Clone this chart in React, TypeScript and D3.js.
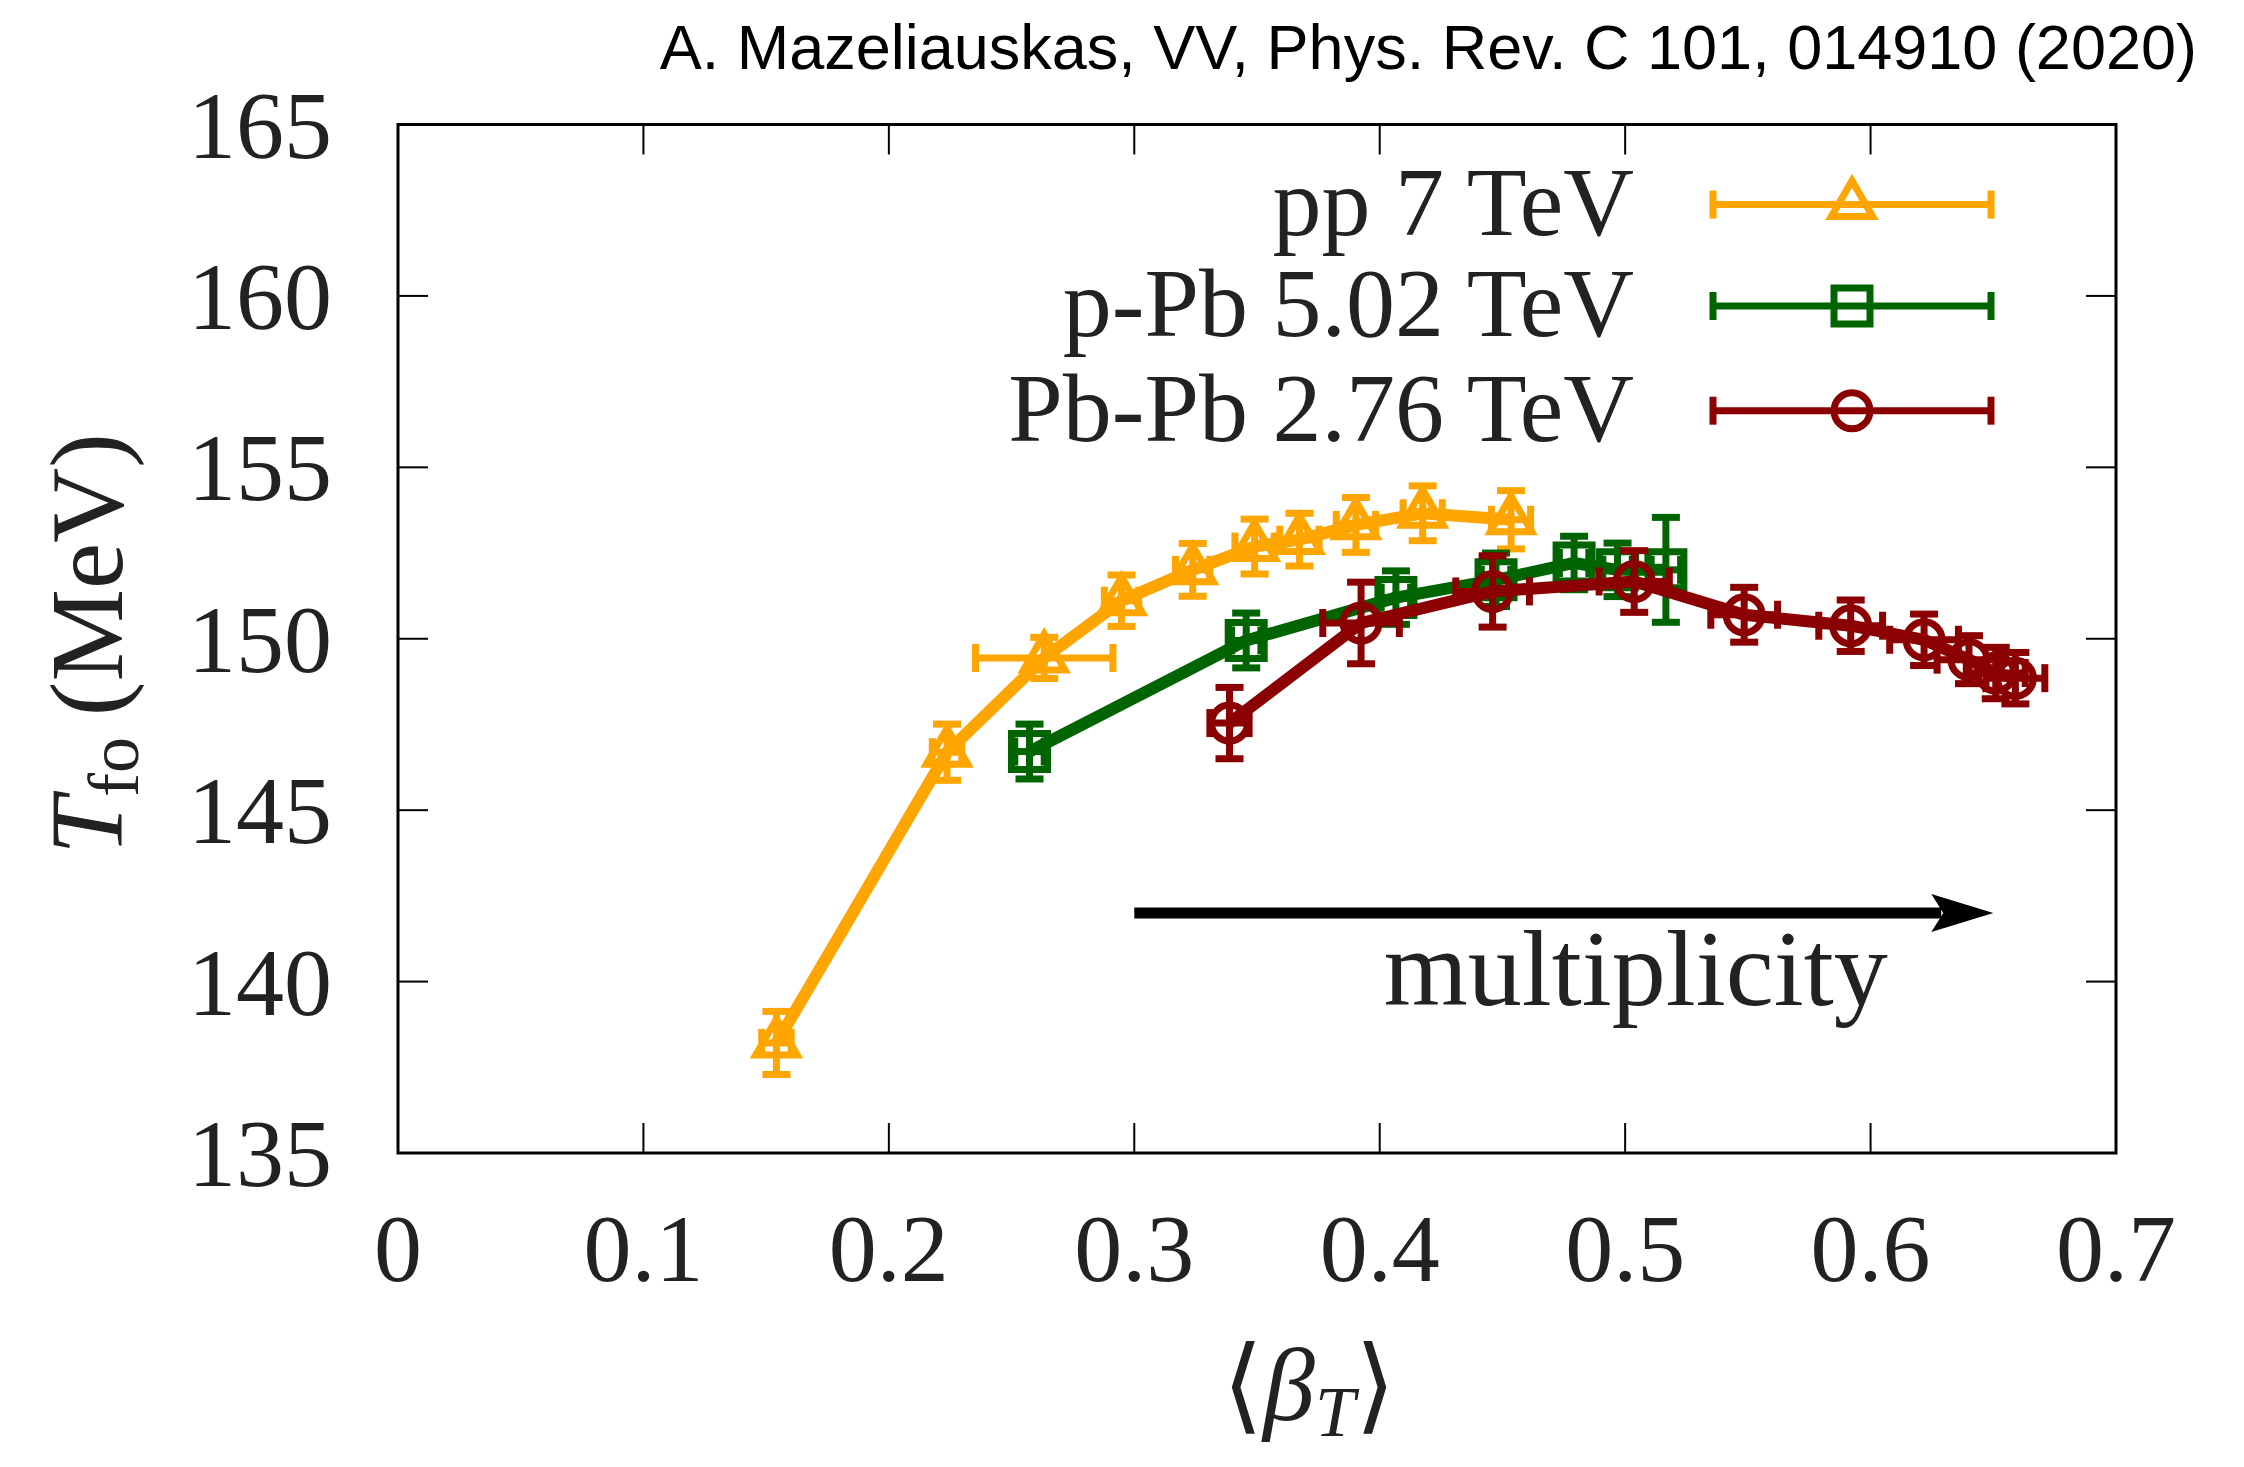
import React from "react";
import * as d3 from "d3";

// ---------- data ----------
const xTickValues = [0, 0.1, 0.2, 0.3, 0.4, 0.5, 0.6, 0.7];
const xTickLabels = ["0", "0.1", "0.2", "0.3", "0.4", "0.5", "0.6", "0.7"];
const yTickValues = [135, 140, 145, 150, 155, 160, 165];
const yTickLabels = ["135", "140", "145", "150", "155", "160", "165"];

const ppX = [0.1542, 0.2237, 0.2633, 0.2948, 0.3238, 0.349, 0.3673, 0.3903, 0.4175, 0.4535];
const ppY = [138.21, 146.69, 149.44, 151.11, 152.01, 152.69, 152.89, 153.32, 153.66, 153.47];
const ppXErr = [0.006, 0.006, 0.028, 0.007, 0.007, 0.008, 0.008, 0.008, 0.008, 0.008];
const ppYErr = [0.92, 0.82, 0.6, 0.75, 0.77, 0.8, 0.77, 0.8, 0.8, 0.85];

const pPbX = [0.2573, 0.3456, 0.4066, 0.4474, 0.4792, 0.4969, 0.5166];
const pPbY = [146.71, 149.95, 151.2, 151.72, 152.21, 152.01, 152.01];
const pPbXErr = [0.006, 0.006, 0.006, 0.006, 0.006, 0.006, 0.006];
const pPbYErr = [0.8, 0.8, 0.78, 0.78, 0.78, 0.78, 1.53];

const PbPbX = [0.3388, 0.3924, 0.446, 0.5037, 0.5485, 0.5919, 0.6218, 0.6401, 0.651, 0.659];
const PbPbY = [147.54, 150.46, 151.38, 151.67, 150.7, 150.38, 149.97, 149.39, 149.0, 148.85];
const PbPbXErr = [0.008, 0.0156, 0.015, 0.0143, 0.0136, 0.013, 0.014, 0.013, 0.012, 0.012];
const PbPbYErr = [1.04, 1.19, 1.04, 0.9, 0.8, 0.75, 0.75, 0.7, 0.75, 0.75];

const seriesNames = ["pp 7 TeV", "p-Pb 5.02 TeV", "Pb-Pb 2.76 TeV"];
const seriesColors = ["#FFA500", "#006400", "#8B0000"];
const seriesSymbols = ["triangle", "square", "circle"];

const arrowX = [0.3, 0.65];
const arrowY = 142;
const annotationText = "multiplicity";
const titleText = "A. Mazeliauskas, VV, Phys. Rev. C 101, 014910 (2020)";

// ---------- layout ----------
const W = 2244;
const H = 1467;
const PLOT_L = 398;
const PLOT_R = 2116;
const PLOT_T = 124.5;
const PLOT_B = 1153;

const SERIF = "'Liberation Serif', 'DejaVu Serif', serif";
const SANS = "'Liberation Sans', Arial, Helvetica, sans-serif";

function symbolPath(kind: string) {
  if (kind === "triangle") return d3.symbol().type(d3.symbolTriangle).size(740)()!;
  if (kind === "square") return d3.symbol().type(d3.symbolSquare).size(36 * 36)()!;
  return d3.symbol().type(d3.symbolCircle).size(Math.PI * 18 * 18)()!;
}

export default function App() {
  const x = d3.scaleLinear().domain([0, 0.7]).range([PLOT_L, PLOT_R]);
  const y = d3.scaleLinear().domain([135, 165]).range([PLOT_B, PLOT_T]);

  const series = [
    { xs: ppX, ys: ppY, xe: ppXErr, ye: ppYErr },
    { xs: pPbX, ys: pPbY, xe: pPbXErr, ye: pPbYErr },
    { xs: PbPbX, ys: PbPbY, xe: PbPbXErr, ye: PbPbYErr },
  ];

  const line = d3
    .line<[number, number]>()
    .x((d) => x(d[0]))
    .y((d) => y(d[1]));

  const CAP = 14;
  const tickLen = 30;

  const innerYTicks = yTickValues.filter((v) => v !== 135 && v !== 165);
  const innerXTicks = xTickValues.filter((v) => v !== 0 && v !== 0.7);

  const ax0 = x(arrowX[0]);
  const ax1 = x(arrowX[1]);
  const ay = y(arrowY);
  const headLen = 62;
  const headHalf = 19;

  const legendTextX = 1634;
  const legendLineX0 = 1713;
  const legendLineX1 = 1991;
  const legendRowsY = [204.6, 306, 410.7];

  return (
    <svg
      width={W}
      height={H}
      viewBox={`0 0 ${W} ${H}`}
      style={{ position: "absolute", left: 0, top: 0, background: "#fff" }}
    >
      <rect x={0} y={0} width={W} height={H} fill="#fff" />

      {/* title */}
      <text x={2197} y={69} textAnchor="end" fontFamily={SANS} fontSize={63} fill="#000">
        {titleText}
      </text>

      {/* ticks */}
      <g stroke="#000" strokeWidth={2}>
        {innerYTicks.map((v) => (
          <g key={"yt" + v}>
            <line x1={PLOT_L} x2={PLOT_L + tickLen} y1={y(v)} y2={y(v)} />
            <line x1={PLOT_R} x2={PLOT_R - tickLen} y1={y(v)} y2={y(v)} />
          </g>
        ))}
        {innerXTicks.map((v) => (
          <g key={"xt" + v}>
            <line x1={x(v)} x2={x(v)} y1={PLOT_B} y2={PLOT_B - tickLen} />
            <line x1={x(v)} x2={x(v)} y1={PLOT_T} y2={PLOT_T + tickLen} />
          </g>
        ))}
      </g>

      {/* tick labels */}
      <g fontFamily={SERIF} fontSize={96} fill="#222">
        {yTickValues.map((v, i) => (
          <text key={"yl" + v} x={332} y={y(v) + 33} textAnchor="end">
            {yTickLabels[i]}
          </text>
        ))}
        {xTickValues.map((v, i) => (
          <text key={"xl" + v} x={x(v)} y={1281} textAnchor="middle">
            {xTickLabels[i]}
          </text>
        ))}
      </g>

      {/* axis titles */}
      <text
        transform={`translate(122, 644) rotate(-90)`}
        textAnchor="middle"
        fontFamily={SERIF}
        fontSize={104}
        fill="#222"
      >
        <tspan fontStyle="italic">T</tspan>
        <tspan fontSize={72} dy={16}>fo</tspan>
        <tspan dy={-16}>{"\u2009(MeV)"}</tspan>
      </text>
      <text x={1309} y={1420} textAnchor="middle" fontFamily={SERIF} fontSize={104} fill="#222">
        <tspan fontFamily="'DejaVu Serif', 'DejaVu Sans', serif" fontWeight={200}>{"\u27E8"}</tspan>
        <tspan fontStyle="italic">{"\u03B2"}</tspan>
        <tspan fontStyle="italic" fontSize={72} dy={16}>T</tspan>
        <tspan dy={-16} fontFamily="'DejaVu Serif', 'DejaVu Sans', serif" fontWeight={200}>{"\u27E9"}</tspan>
      </text>

      {/* arrow + annotation */}
      <line x1={ax0} x2={ax1 - headLen + 10} y1={ay} y2={ay} stroke="#000" strokeWidth={11} />
      <path
        d={`M${ax1},${ay} L${ax1 - headLen},${ay - headHalf} L${ax1 - headLen + 12},${ay} L${ax1 - headLen},${ay + headHalf} Z`}
        fill="#000"
      />
      <text x={x(0.607)} y={y(139.32)} textAnchor="end" fontFamily={SERIF} fontSize={108} fill="#222">
        {annotationText}
      </text>

      {/* series */}
      {series.map((s, si) => {
        const pts: [number, number][] = s.xs.map((xv, i) => [xv, s.ys[i]]);
        const col = seriesColors[si];
        const sym = symbolPath(seriesSymbols[si]);
        return (
          <g key={"s" + si}>
            <path d={line(pts)!} fill="none" stroke={col} strokeWidth={12} strokeLinejoin="round" />
            <g stroke={col} strokeWidth={7}>
              {pts.map((p, i) => {
                const cx = x(p[0]);
                const cy = y(p[1]);
                const yl = y(p[1] - s.ye[i]);
                const yh = y(p[1] + s.ye[i]);
                const xl = x(p[0] - s.xe[i]);
                const xh = x(p[0] + s.xe[i]);
                return (
                  <g key={i}>
                    <line x1={cx} x2={cx} y1={yl} y2={yh} />
                    <line x1={cx - CAP} x2={cx + CAP} y1={yl} y2={yl} />
                    <line x1={cx - CAP} x2={cx + CAP} y1={yh} y2={yh} />
                    <line x1={xl} x2={xh} y1={cy} y2={cy} />
                    <line x1={xl} x2={xl} y1={cy - CAP} y2={cy + CAP} />
                    <line x1={xh} x2={xh} y1={cy - CAP} y2={cy + CAP} />
                  </g>
                );
              })}
            </g>
            <g fill="none" stroke={col} strokeWidth={7}>
              {pts.map((p, i) => (
                <path key={i} d={sym} transform={`translate(${x(p[0])},${y(p[1])})`} />
              ))}
            </g>
          </g>
        );
      })}

      {/* legend */}
      {seriesNames.map((name, i) => {
        const ly = legendRowsY[i];
        const col = seriesColors[i];
        const mx = (legendLineX0 + legendLineX1) / 2;
        return (
          <g key={"lg" + i}>
            <text x={legendTextX} y={ly + 30} textAnchor="end" fontFamily={SERIF} fontSize={98} fill="#222">
              {name}
            </text>
            <g stroke={col} strokeWidth={7}>
              <line x1={legendLineX0} x2={legendLineX1} y1={ly} y2={ly} />
              <line x1={legendLineX0} x2={legendLineX0} y1={ly - CAP} y2={ly + CAP} />
              <line x1={legendLineX1} x2={legendLineX1} y1={ly - CAP} y2={ly + CAP} />
            </g>
            <path
              d={symbolPath(seriesSymbols[i])}
              transform={`translate(${mx},${ly})`}
              fill="none"
              stroke={col}
              strokeWidth={7}
            />
          </g>
        );
      })}

      {/* frame */}
      <rect
        x={PLOT_L}
        y={PLOT_T}
        width={PLOT_R - PLOT_L}
        height={PLOT_B - PLOT_T}
        fill="none"
        stroke="#000"
        strokeWidth={3}
      />
    </svg>
  );
}
